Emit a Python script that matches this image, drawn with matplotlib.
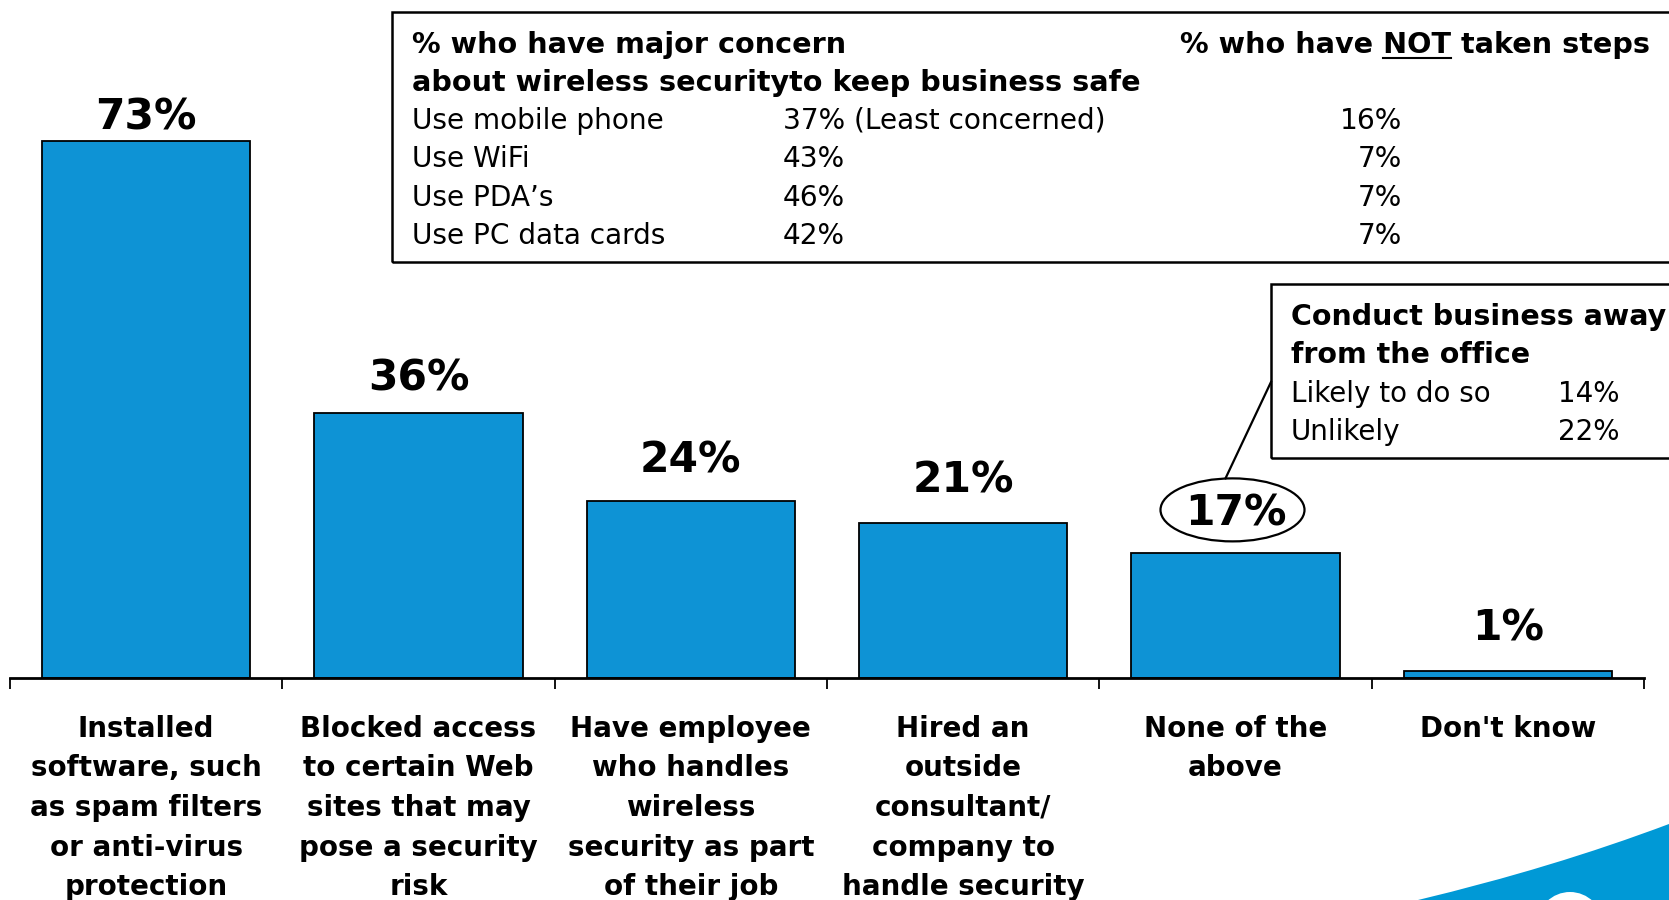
import matplotlib

matplotlib.use("Agg")
import matplotlib.pyplot as plt  # noqa: E402
from matplotlib.lines import Line2D  # noqa: E402
from matplotlib.patches import Ellipse, PathPatch, Rectangle  # noqa: E402
from matplotlib.path import Path  # noqa: E402

W, H = 1669, 900
BLUE = "#0e93d5"
SWOOSH = "#0099d6"
FONT = "DejaVu Sans"

# --- data -----------------------------------------------------------------
CATEGORIES = [
    "Installed\nsoftware, such\nas spam filters\nor anti-virus\nprotection",
    "Blocked access\nto certain Web\nsites that may\npose a security\nrisk",
    "Have employee\nwho handles\nwireless\nsecurity as part\nof their job",
    "Hired an\noutside\nconsultant/\ncompany to\nhandle security",
    "None of the\nabove",
    "Don't know",
]
VALUES = [73, 36, 24, 21, 17, 1]

TABLE_HEAD_LEFT = ["% who have major concern", "about wireless securityto keep business safe"]
TABLE_HEAD_RIGHT = ("% who have ", "NOT", " taken steps")
DEVICES = ["Use mobile phone", "Use WiFi", "Use PDA\u2019s", "Use PC data cards"]
CONCERN = ["37% (Least concerned)", "43%", "46%", "42%"]
NOT_TAKEN = ["16%", "7%", "7%", "7%"]

AWAY_HEAD = ["Conduct business away", "from the office"]
AWAY_ROWS = ["Likely to do so", "Unlikely"]
AWAY_VALUES = ["14%", "22%"]

HIGHLIGHT = 4  # "None of the above" gets the ellipse + callout

# --- layout (pixels from top-left) ------------------------------------------
BASE_Y = 678
PX_PER_PCT = 7.36
LABEL_GAP = [11, 23, 29, 31, 27, 30]


def fx(x):
    return x / W


def fy(y):
    return 1 - y / H


def ftext(x, y, s, **kw):
    kw.setdefault("family", FONT)
    kw.setdefault("va", "baseline")
    return fig.text(fx(x), fy(y), s, **kw)


fig = plt.figure(figsize=(W / 100, H / 100), dpi=100)
ax = fig.add_axes([fx(10), fy(BASE_Y), (1644 - 10) / W, BASE_Y / H])
ax.patch.set_alpha(0)

xs = range(len(VALUES))
ax.bar(xs, VALUES, width=0.765, color=BLUE, edgecolor="black", linewidth=1.3, zorder=2)
ax.set_xlim(-0.5, len(VALUES) - 0.5)
ax.set_ylim(0, BASE_Y / PX_PER_PCT)
for s in ["top", "right", "left"]:
    ax.spines[s].set_visible(False)
ax.spines["bottom"].set_linewidth(2.0)
ax.spines["bottom"].set_zorder(3)
ax.set_yticks([])
ax.set_xticks([i - 0.5 for i in range(len(VALUES) + 1)])
ax.set_xticklabels([])
ax.tick_params(axis="x", direction="out", length=8, width=1.3)

for i, (v, gap) in enumerate(zip(VALUES, LABEL_GAP)):
    ax.annotate(f"{v}%", xy=(i, v), xytext=(0, gap * 0.72), textcoords="offset points",
                ha="center", va="baseline", fontsize=30.5, fontweight="bold", family=FONT)

# category labels, one text per line for exact spacing
for i, lab in enumerate(CATEGORIES):
    cx = ax.transData.transform((i, 0))[0]
    for k, line in enumerate(lab.split("\n")):
        ftext(cx, 737 + k * 39.5, line, ha="center", fontsize=20, fontweight="bold")

# ellipse around the highlighted value + leader to the callout box
hx, hy = ax.transData.transform((HIGHLIGHT, VALUES[HIGHLIGHT]))
hy = H - hy
ecx, ecy = hx - 3, hy - LABEL_GAP[HIGHLIGHT] - 16
fig.add_artist(Ellipse((fx(ecx), fy(ecy)), 144 / W, 63 / H, fill=False, edgecolor="black",
                       linewidth=1.6, transform=fig.transFigure))
fig.add_artist(Line2D([fx(ecx - 7), fx(1271)], [fy(ecy - 31.5), fy(382)], color="black",
                      linewidth=1.6, transform=fig.transFigure))

# top table box
fig.add_artist(Rectangle((fx(392), fy(262)), (1720 - 392) / W, (262 - 12) / H, fill=False,
                         edgecolor="black", linewidth=1.8, transform=fig.transFigure, clip_on=False))
for k, s in enumerate(TABLE_HEAD_LEFT):
    ftext(412, 53 + k * 38, s, fontsize=20.6, fontweight="bold")
hdr = ftext(1180, 53, "".join(TABLE_HEAD_RIGHT), fontsize=20.6, fontweight="bold")
for k, (dev, con, nt) in enumerate(zip(DEVICES, CONCERN, NOT_TAKEN)):
    y = 129 + k * 38.3
    ftext(412, y, dev, fontsize=20.2)
    ftext(783, y, con, fontsize=20.2)
    ftext(1402, y, nt, fontsize=20.2, ha="right")

# underline "NOT"
fig.canvas.draw()
r = fig.canvas.get_renderer()


def _w(s):
    t = ftext(0, 0, s, fontsize=20.6, fontweight="bold")
    w = t.get_window_extent(r).width
    t.remove()
    return w


x1 = 1180 + _w(TABLE_HEAD_RIGHT[0] + TABLE_HEAD_RIGHT[1])
x0 = x1 - _w(TABLE_HEAD_RIGHT[1])
fig.add_artist(Line2D([fx(x0), fx(x1)], [fy(57.5), fy(57.5)], color="black", linewidth=1.5,
                      transform=fig.transFigure))

# callout box
fig.add_artist(Rectangle((fx(1271), fy(458)), (1720 - 1271) / W, (458 - 284) / H, fill=False,
                         edgecolor="black", linewidth=1.8, transform=fig.transFigure, clip_on=False))
for k, s in enumerate(AWAY_HEAD):
    ftext(1291, 325 + k * 38, s, fontsize=20.5, fontweight="bold")
for k, (lab, val) in enumerate(zip(AWAY_ROWS, AWAY_VALUES)):
    ftext(1291, 402 + k * 38, lab, fontsize=20)
    ftext(1619, 402 + k * 38, val, fontsize=20, ha="right")

# decorative swoosh bottom-right
verts = [(1418, 900), (1552, 868), (1669, 824), (1669, 900), (1418, 900)]
codes = [Path.MOVETO, Path.CURVE3, Path.CURVE3, Path.LINETO, Path.CLOSEPOLY]
fig.add_artist(PathPatch(Path([(fx(a), fy(b)) for a, b in verts], codes), facecolor=SWOOSH,
                         edgecolor="none", transform=fig.transFigure))
fig.add_artist(Ellipse((fx(1570), fy(925)), 66 / W, 66 / H, facecolor="white", edgecolor="none",
                       transform=fig.transFigure))

fig.savefig("out.png", dpi=100)
